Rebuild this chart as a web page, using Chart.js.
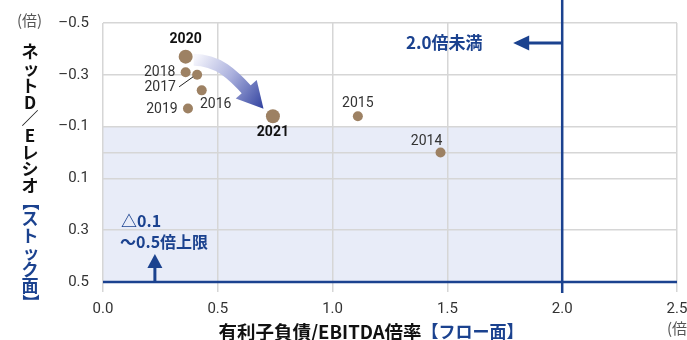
<!DOCTYPE html>
<html>
<head>
<meta charset="utf-8">
<script src="https://cdn.jsdelivr.net/npm/chart.js@4/dist/chart.umd.min.js"></script>
<style>
  html, body { margin: 0; padding: 0; background: #fff; }
  #wrap { width: 687px; height: 340px; position: relative; }
</style>
</head>
<body>
<div id="wrap"><canvas id="c" width="687" height="340"></canvas></div>
<script>
// Fiscal years and the two leverage ratios
const years = ['2014', '2015', '2016', '2017', '2018', '2019', '2020', '2021'];
const debtToEbitda = [1.47, 1.11, 0.43, 0.41, 0.36, 0.37, 0.36, 0.74];   // 有利子負債/EBITDA倍率
const netDebtEquity = [0.00, -0.14, -0.24, -0.30, -0.31, -0.17, -0.37, -0.14]; // ネットD/Eレシオ

// Axis ticks
const xTicks = [0, 0.5, 1.0, 1.5, 2.0, 2.5];
const yTicks = [-0.5, -0.3, -0.1, 0, 0.1, 0.3, 0.5];

// Policy thresholds
const flowLimit = 2.0;          // 2.0倍未満
const stockRange = [-0.1, 0.5]; // △0.1〜0.5倍上限

const BLUE = '#1b428f';
const DOT = '#9d8163';
const JP = '"Noto Sans CJK JP", "Noto Sans", sans-serif';
const NUM = 'Roboto, "Noto Sans CJK JP", sans-serif';

const highlight = new Set(['2020', '2021']);

// label placement for each year, relative to its point
const labelSpots = {
  '2014': { dx: -14, dy: -11, bold: false },
  '2015': { dx: 0, dy: -13, bold: false },
  '2016': { dx: 14, dy: 14, bold: false },
  '2017': { dx: -37, dy: 13, bold: false },
  '2018': { dx: -26, dy: 0, bold: false },
  '2019': { dx: -26, dy: 1, bold: false },
  '2020': { dx: 0, dy: -17, bold: true },
  '2021': { dx: 0, dy: 16, bold: true }
};

function fmtY(v) {
  if (v === 0) return '';
  return (v < 0 ? '\u2013' : '') + Math.abs(v).toFixed(1);
}

function arrowHead(ctx, tipX, tipY, ang, len, half) {
  const bx = tipX - Math.cos(ang) * len;
  const by = tipY - Math.sin(ang) * len;
  ctx.beginPath();
  ctx.moveTo(tipX, tipY);
  ctx.lineTo(bx + Math.cos(ang + Math.PI / 2) * half, by + Math.sin(ang + Math.PI / 2) * half);
  ctx.lineTo(bx - Math.cos(ang + Math.PI / 2) * half, by - Math.sin(ang + Math.PI / 2) * half);
  ctx.closePath();
  ctx.fill();
}

const backdrop = {
  id: 'backdrop',
  beforeDraw(chart) {
    const { ctx, scales: { x, y } } = chart;
    ctx.save();
    ctx.fillStyle = '#e8ecf8';
    const l = x.getPixelForValue(0), r = x.getPixelForValue(flowLimit);
    const t = y.getPixelForValue(stockRange[0]), b = y.getPixelForValue(stockRange[1]);
    ctx.fillRect(l, t, r - l, b - t);
    ctx.restore();
  }
};

const overlay = {
  id: 'overlay',
  afterDraw(chart) {
    const { ctx, scales: { x, y }, chartArea: ca } = chart;
    ctx.save();

    // threshold lines
    ctx.strokeStyle = BLUE;
    ctx.lineWidth = 2.5;
    const lx = x.getPixelForValue(flowLimit);
    ctx.beginPath();
    ctx.moveTo(lx, 0);
    ctx.lineTo(lx, ca.bottom + 11);
    ctx.stroke();
    const ly = y.getPixelForValue(stockRange[1]);
    ctx.beginPath();
    ctx.moveTo(ca.left, ly);
    ctx.lineTo(ca.right, ly);
    ctx.stroke();

    // left arrow for the flow limit
    ctx.fillStyle = BLUE;
    ctx.lineWidth = 3;
    const ay = 43;
    ctx.beginPath();
    ctx.moveTo(lx, ay);
    ctx.lineTo(lx - 36, ay);
    ctx.stroke();
    arrowHead(ctx, lx - 49, ay, Math.PI, 16, 7.5);

    // up arrow for the stock range
    const ux = x.getPixelForValue(0.226);
    ctx.beginPath();
    ctx.moveTo(ux, ly);
    ctx.lineTo(ux, ly - 16);
    ctx.stroke();
    arrowHead(ctx, ux, ly - 28, -Math.PI / 2, 14, 7.5);

    // annotation texts
    ctx.fillStyle = BLUE;
    ctx.textBaseline = 'middle';
    ctx.textAlign = 'left';
    ctx.font = 'bold 17px ' + JP;
    ctx.fillText('2.0倍未満', 406, 43);
    ctx.font = 'bold 16px ' + JP;
    ctx.fillText('△0.1', 121, 221);
    ctx.fillText('～0.5倍上限', 120, 242);

    // curved arrow 2020 -> 2021
    const p0x = x.getPixelForValue(debtToEbitda[6]), p0y = y.getPixelForValue(netDebtEquity[6]);
    const p1x = x.getPixelForValue(debtToEbitda[7]), p1y = y.getPixelForValue(netDebtEquity[7]);
    const sx = p0x + 8, sy = p0y + 3;
    const ex = p1x - 24, ey = p1y - 24;
    const c1x = sx + 24, c1y = sy;
    const c2x = ex - 16, c2y = ey - 18;
    const grad = ctx.createLinearGradient(sx, sy, p1x - 6, p1y - 6);
    grad.addColorStop(0, '#f6f6fc');
    grad.addColorStop(0.45, '#aab0dd');
    grad.addColorStop(1, '#27399a');
    ctx.strokeStyle = grad;
    ctx.lineWidth = 12;
    ctx.lineCap = 'butt';
    ctx.beginPath();
    ctx.moveTo(sx, sy);
    ctx.bezierCurveTo(c1x, c1y, c2x, c2y, ex, ey);
    ctx.stroke();
    ctx.fillStyle = grad;
    const ang = Math.atan2(ey - c2y, ex - c2x);
    arrowHead(ctx, ex + Math.cos(ang) * 22, ey + Math.sin(ang) * 22, ang, 26, 14);

    // leader for 2017
    const p17x = x.getPixelForValue(debtToEbitda[3]), p17y = y.getPixelForValue(netDebtEquity[3]);
    ctx.strokeStyle = '#222';
    ctx.lineWidth = 1;
    ctx.beginPath();
    ctx.moveTo(p17x - 4, p17y + 2);
    ctx.lineTo(p17x - 18, p17y + 12);
    ctx.stroke();

    // point labels
    years.forEach((yr, i) => {
      const s = labelSpots[yr];
      const px = x.getPixelForValue(debtToEbitda[i]);
      const py = y.getPixelForValue(netDebtEquity[i]);
      ctx.fillStyle = s.bold ? '#111' : '#333';
      ctx.font = (s.bold ? 'bold 14px ' : '14px ') + NUM;
      ctx.textAlign = 'center';
      ctx.textBaseline = 'middle';
      ctx.fillText(yr, px + s.dx, py + s.dy);
    });

    // unit labels
    ctx.fillStyle = '#555';
    ctx.font = '15px ' + JP;
    ctx.textAlign = 'left';
    ctx.fillText('(倍)', 17, 20);
    ctx.fillText('(倍)', 667, 328);

    // x title
    ctx.textBaseline = 'middle';
    const main = '有利子負債/EBITDA倍率';
    const tail = '【フロー面】';
    ctx.font = 'bold 18.5px ' + JP;
    const w1 = ctx.measureText(main).width;
    ctx.font = 'bold 17px ' + JP;
    const w2 = ctx.measureText(tail).width;
    const tx = 371 - (w1 + w2) / 2;
    ctx.font = 'bold 18.5px ' + JP;
    ctx.fillStyle = '#111';
    ctx.fillText(main, tx, 332);
    ctx.font = 'bold 17px ' + JP;
    ctx.fillStyle = BLUE;
    ctx.fillText(tail, tx + w1, 332);

    // vertical y title
    const vChars = ['ネ', 'ッ', 'ト', 'D', '／', 'E', 'レ', 'シ', 'オ'];
    const vBlue = ['【', 'ス', 'ト', 'ッ', 'ク', '面', '】'];
    const all = vChars.map(c => [c, '#111']).concat(vBlue.map(c => [c, BLUE]));
    ctx.font = 'bold 17px ' + JP;
    ctx.textAlign = 'center';
    let cy = 52;
    all.forEach(([ch, col]) => {
      ctx.fillStyle = col;
      if (ch === '【' || ch === '】') {
        ctx.save();
        ctx.translate(30, cy);
        ctx.rotate(Math.PI / 2);
        ctx.fillText(ch, 0, 0);
        ctx.restore();
      } else if (ch === 'ッ') {
        ctx.fillText(ch, 31, cy);
      } else {
        ctx.fillText(ch, 30, cy);
      }
      cy += 16.7;
    });

    ctx.restore();
  }
};

new Chart(document.getElementById('c'), {
  type: 'scatter',
  data: {
    labels: years,
    datasets: [{
      data: years.map((_, i) => ({ x: debtToEbitda[i], y: netDebtEquity[i] })),
      backgroundColor: DOT,
      borderColor: DOT,
      borderWidth: 0,
      pointRadius: ctx => highlight.has(years[ctx.dataIndex]) ? 7 : 5,
      pointHoverRadius: ctx => highlight.has(years[ctx.dataIndex]) ? 7 : 5
    }]
  },
  options: {
    responsive: false,
    animation: false,
    devicePixelRatio: 1,
    layout: { padding: { top: 20, right: 10, left: 0, bottom: 0 } },
    plugins: { legend: { display: false }, tooltip: { enabled: false } },
    scales: {
      x: {
        type: 'linear',
        min: 0, max: 2.5,
        afterBuildTicks: s => { s.ticks = xTicks.map(v => ({ value: v })); },
        afterFit: s => { s.height = 58; s.paddingLeft = 0; s.paddingRight = 0; },
        grid: { color: '#d6d6d6', lineWidth: 1.5, drawTicks: true, tickLength: 10 },
        border: { display: false },
        ticks: {
          autoSkip: false, maxRotation: 0, padding: 8,
          color: '#333', font: { family: NUM, size: 15 },
          callback: v => Number(v).toFixed(1)
        }
      },
      y: {
        type: 'linear',
        reverse: true,
        min: -0.5, max: 0.5,
        afterBuildTicks: s => { s.ticks = yTicks.map(v => ({ value: v })); },
        afterFit: s => { s.width = 103; },
        grid: { color: '#d6d6d6', lineWidth: 1.5, drawTicks: false },
        border: { display: false },
        ticks: {
          autoSkip: false, padding: 14,
          color: '#333', font: { family: NUM, size: 15 },
          callback: v => fmtY(Number(v))
        }
      }
    }
  },
  plugins: [backdrop, overlay]
});
</script>
</body>
</html>
